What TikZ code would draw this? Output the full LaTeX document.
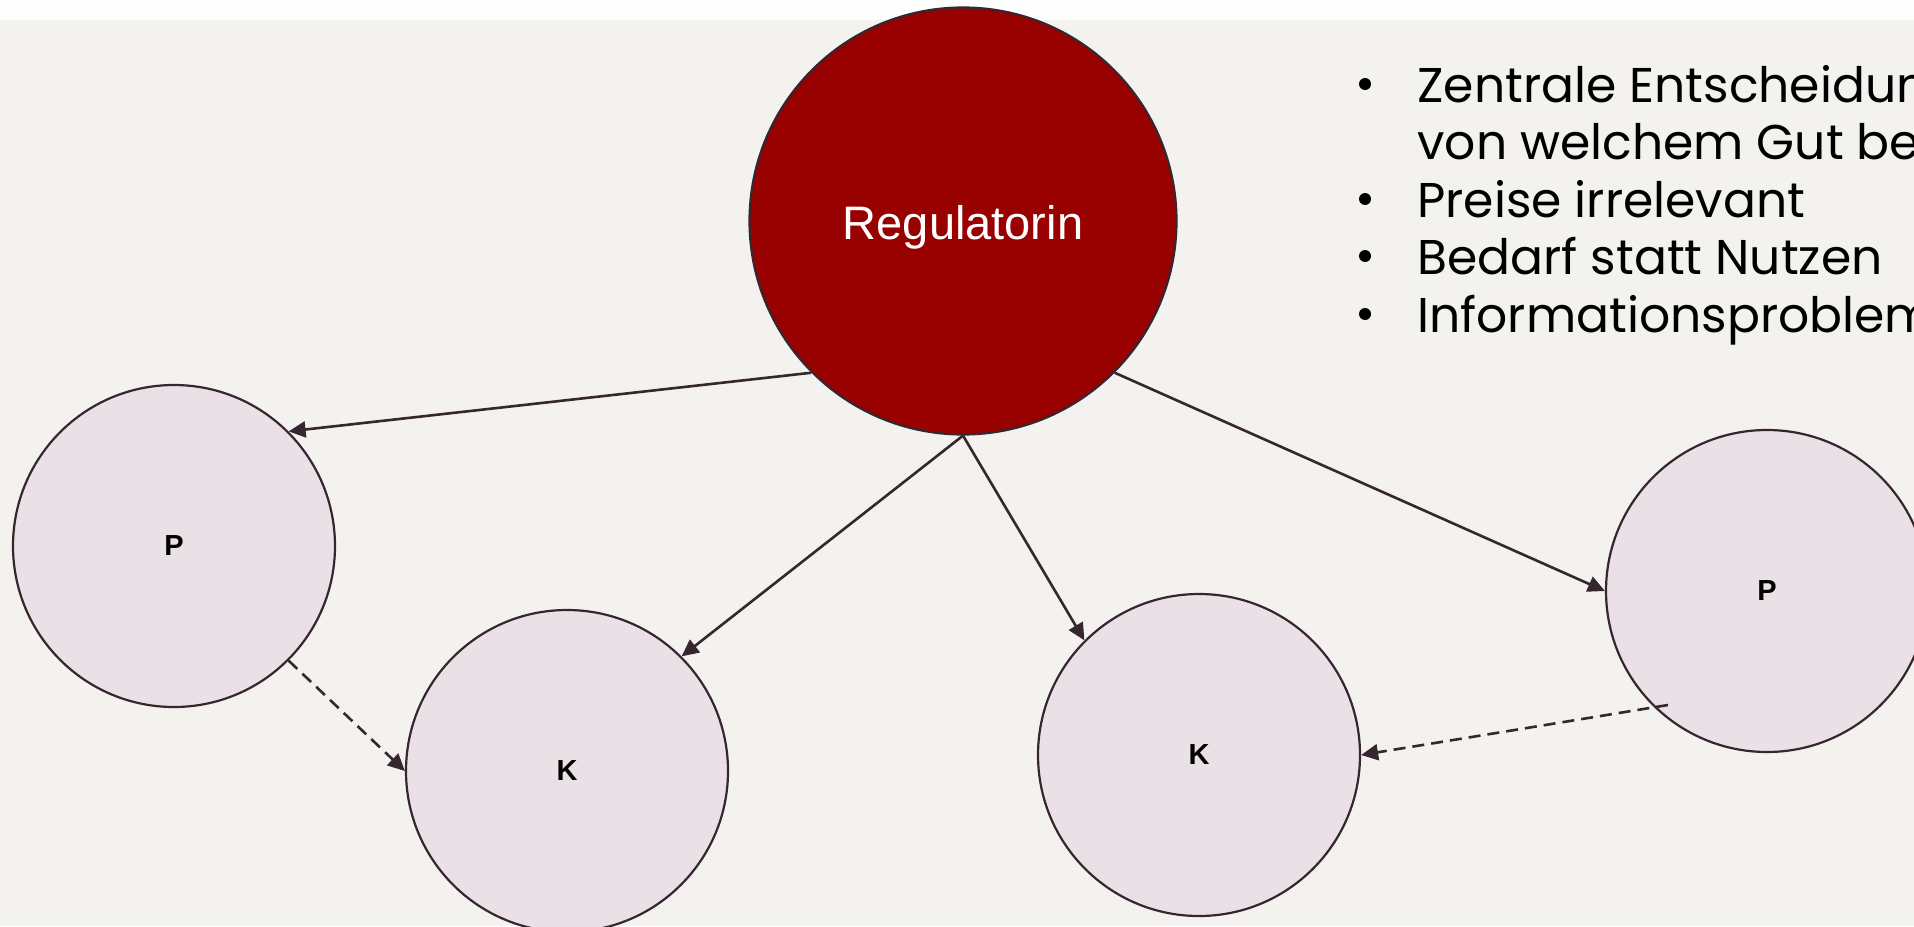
\documentclass[tikz,border=0pt]{standalone}
\usepackage{fontspec}
\setmainfont{Liberation Sans}
\newfontfamily\listfont{Poppins}
\usetikzlibrary{arrows.meta,calc}
\definecolor{bgpaper}{HTML}{F3F2EE}
\definecolor{topband}{HTML}{FDFDFD}
\definecolor{regred}{HTML}{990000}
\definecolor{agentfill}{HTML}{EAE1E7}
\definecolor{inkline}{HTML}{35262F}
\tikzset{
  regnode/.style={circle, draw=inkline, line width=1.1pt, fill=regred, inner sep=0pt,
    minimum size=213.5pt, text=white, text height=18pt, text depth=0pt,
    font=\fontsize{23.5}{28}\selectfont},
  agent/.style={circle, draw=inkline, line width=1.1pt, fill=agentfill, inner sep=0pt,
    minimum size=161pt, font=\bfseries\fontsize{14.5}{17}\selectfont},
  link/.style={draw=inkline, line width=1.3pt, -{Triangle[length=8.5pt,width=8pt]}},
  flow/.style={link, dash pattern=on 6pt off 3.5pt},
  listline/.style={anchor=base west, inner sep=0pt, font=\listfont\fontsize{24.4}{29}\selectfont},
  listdot/.style={circle, fill=black, inner sep=0pt, minimum size=6pt},
}
\begin{document}
\begin{tikzpicture}[x=0.5pt, y=-0.5pt]
  \useasboundingbox (0,0) rectangle (1914,926);
  \clip (0,0) rectangle (1914,926);
  % backdrop with the light strip along the top edge
  \fill[bgpaper] (0,0) rectangle (1914,926);
  \fill[topband] (0,0) rectangle (1914,20);

  % planner and the agents
  \node[regnode] (reg) at (963,221) {Regulatorin};
  \node[agent] (p1) at (174,546) {P};
  \node[agent] (k1) at (567,771) {K};
  \node[agent] (k2) at (1199,755) {K};
  \node[agent] (p2) at (1767,591) {P};

  % directives from the planner
  \draw[link] (reg.south west) -- (p1.north east);
  \draw[link] (reg.south) -- (k1.north east);
  \draw[link] (reg.south) -- (k2.north west);
  \draw[link] (reg.south east) -- (p2.west);

  % deliveries from producers to consumers
  \coordinate (p2out) at ($(p2.center)+(-99,114)$);
  \draw[flow] (p1.south east) -- (k1.west);
  \draw[flow] (p2out) -- (k2.east);

  % bullet list
  \node[listdot] (d1) at (1365,84) {};
  \node[listline] (l1a) at (1417,102) {Zentrale Entscheidun};
  \node[listline] (l1b) at (1417,159) {von welchem Gut be};
  \node[listdot] (d2) at (1365,199) {};
  \node[listline] (l2) at (1417,217) {Preise irrelevant};
  \node[listdot] (d3) at (1365,256) {};
  \node[listline] (l3) at (1417,274) {Bedarf statt Nutzen};
  \node[listdot] (d4) at (1365,314) {};
  \node[listline] (l4) at (1417,332) {Informationsproblem};
\end{tikzpicture}
\end{document}
